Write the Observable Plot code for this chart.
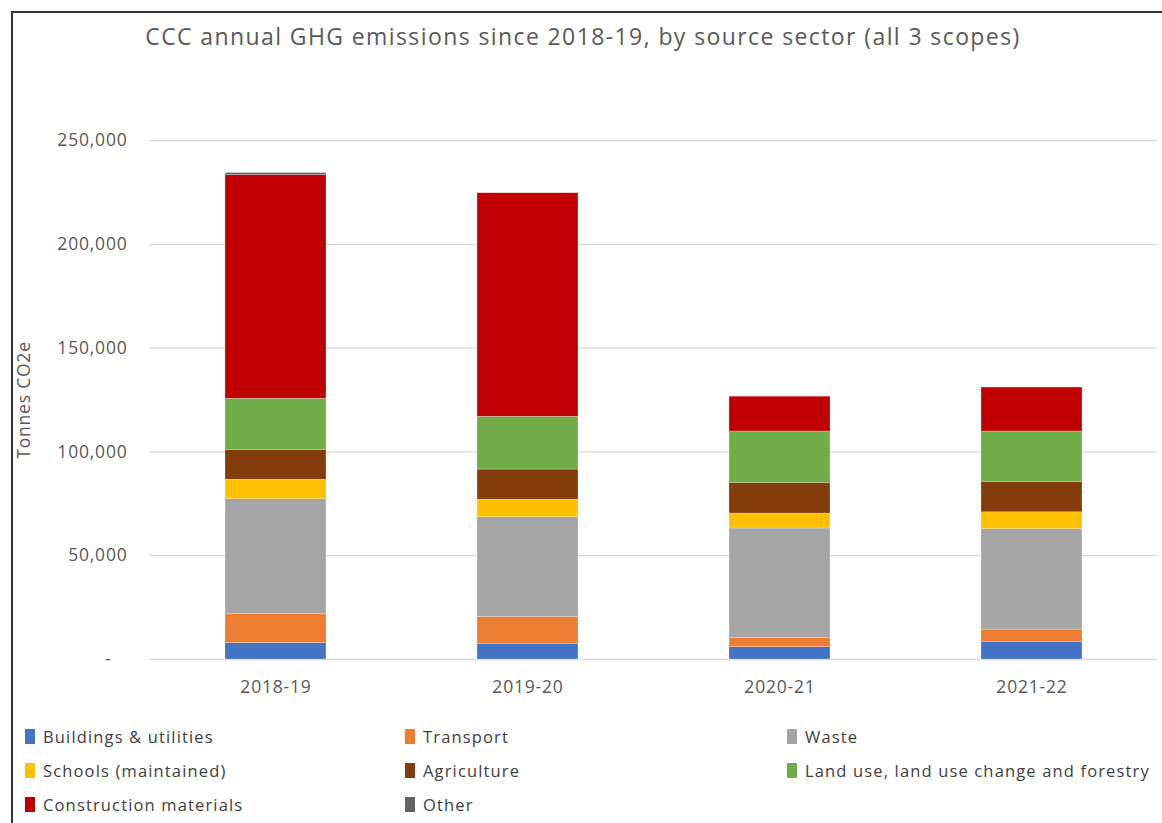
<!DOCTYPE html>
<html>
<head>
<meta charset="utf-8">
<script src="https://cdn.jsdelivr.net/npm/d3@7"></script>
<script src="https://cdn.jsdelivr.net/npm/@observablehq/plot@0.6"></script>
<style>
  html, body { margin: 0; padding: 0; background: #fff; overflow: hidden; width: 1162px; height: 823px; }
  body { font-family: "Open Sans", sans-serif; color: #595959; position: relative; }
  #frame { position: absolute; left: 11px; top: 11px; width: 1300px; height: 1000px; border-left: 2px solid #333; border-top: 2px solid #333; }
  #title { position: absolute; top: 20px; left: 0; width: 1162px; text-align: center; font-size: 23px; letter-spacing: 1.4px; color: #595959; padding-left: 4px; box-sizing: border-box; }
  #chart { position: absolute; top: 100px; left: 0; }
  #legend { position: absolute; left: 25px; top: 719px; display: grid; grid-template-columns: 380px 382px auto; grid-auto-rows: 34px; font-size: 16.5px; letter-spacing: 1.15px; color: #404040; }
  .item { display: flex; align-items: center; white-space: nowrap; }
  .sw { width: 10px; height: 15px; margin-right: 8px; flex: none; }
</style>
</head>
<body>
<div id="frame"></div>
<div id="title">CCC annual GHG emissions since 2018-19, by source sector (all 3 scopes)</div>
<div id="chart"></div>
<div id="legend"></div>
<script>
const years = ["2018-19", "2019-20", "2020-21", "2021-22"];
const sectors = [
  "Buildings & utilities",
  "Transport",
  "Waste",
  "Schools (maintained)",
  "Agriculture",
  "Land use, land use change and forestry",
  "Construction materials",
  "Other"
];
const colors = ["#4472C4", "#ED7D31", "#A5A5A5", "#FFC000", "#843C0C", "#70AD47", "#C00000", "#636363"];

// Tonnes CO2e per sector, one value per year
const buildings    = [7900, 7400, 5900, 8300];
const transport    = [13900, 13100, 4500, 6100];
const waste        = [55400, 48000, 52700, 48400];
const schools      = [9400, 8500, 7200, 8100];
const agriculture  = [14400, 14500, 14800, 14500];
const landUse      = [24600, 25400, 24700, 24400];
const construction = [107800, 107700, 16800, 21200];
const other        = [900, 0, 0, 0];

const yTicks = [0, 50000, 100000, 150000, 200000, 250000];

const seriesValues = [buildings, transport, waste, schools, agriculture, landUse, construction, other];
const data = years.flatMap((year, i) =>
  sectors.map((sector, j) => ({year, sector, value: seriesValues[j][i]}))
);

const fmt = d3.format(",");
const chart = Plot.plot({
  width: 1162,
  height: 604,
  marginTop: 40,
  marginBottom: 45,
  marginLeft: 149,
  marginRight: 5,
  style: {fontFamily: "Open Sans, sans-serif", fontSize: "17.5px", color: "#595959", background: "transparent"},
  x: {domain: years, paddingInner: 0.6, paddingOuter: 0.3, tickSize: 0, tickPadding: 21, label: null},
  y: {
    domain: [0, 250000],
    ticks: yTicks,
    tickSize: 0,
    tickPadding: 22,
    tickFormat: d => d === 0 ? "-\u00a0\u00a0\u00a0" : fmt(d),
    label: "Tonnes CO2e",
    labelArrow: "none",
    labelAnchor: "center",
    labelOffset: 132
  },
  color: {domain: sectors, range: colors},
  marks: [
    Plot.ruleY(yTicks, {stroke: "#d9d9d9", strokeWidth: 1.3}),
    Plot.barY(data, {x: "year", y: "value", fill: "sector", order: sectors, stroke: "#ffffff", strokeWidth: 0.5, strokeOpacity: 0.5})
  ]
});
chart.querySelectorAll("text").forEach(t => {
  t.style.letterSpacing = "0.8px";
  if (/[↑↓→←]/.test(t.textContent)) t.textContent = t.textContent.replace(/\s*[↑↓→←]\s*/g, "");
});
document.getElementById("chart").appendChild(chart);

const legend = document.getElementById("legend");
sectors.forEach((s, i) => {
  const item = document.createElement("div");
  item.className = "item";
  const sw = document.createElement("span");
  sw.className = "sw";
  sw.style.background = colors[i];
  const t = document.createElement("span");
  t.textContent = s;
  item.appendChild(sw);
  item.appendChild(t);
  legend.appendChild(item);
});
</script>
</body>
</html>
